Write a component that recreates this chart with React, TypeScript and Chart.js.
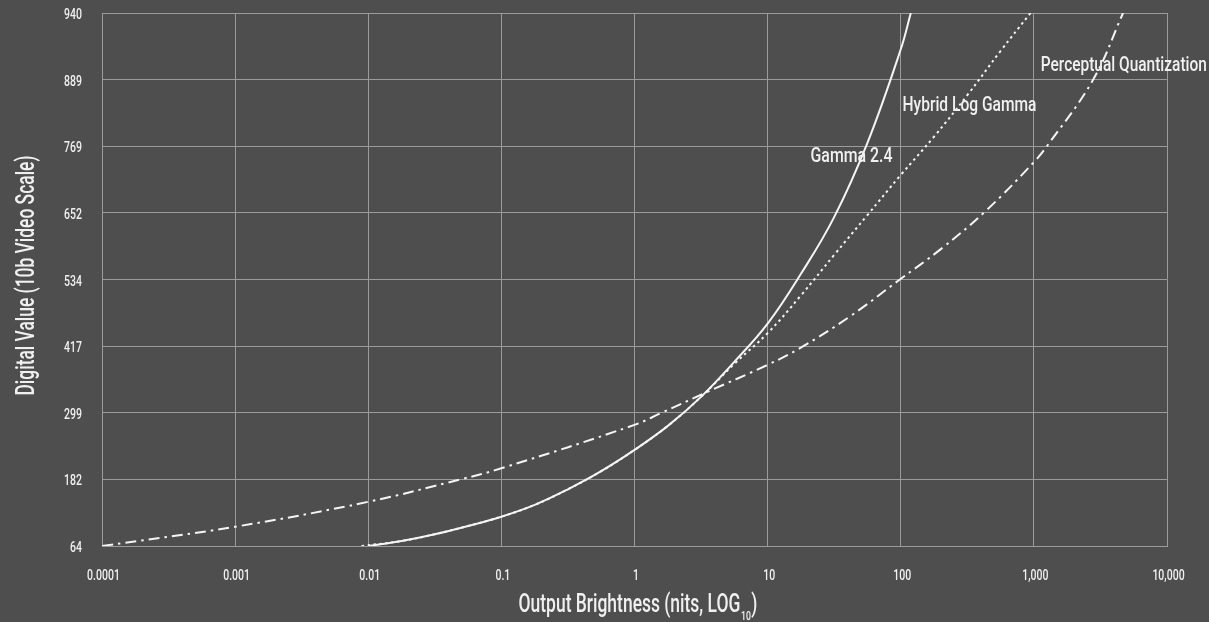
import React, { useEffect, useRef } from 'react';
import { Chart, registerables } from 'chart.js';

Chart.register(...registerables);

// ---- data ----
const xTickValues = [0.0001, 0.001, 0.01, 0.1, 1, 10, 100, 1000, 10000];
const xTickLabels = ['0.0001', '0.001', '0.01', '0.1', '1', '10', '100', '1,000', '10,000'];
const yTickLabels = ['64', '182', '299', '417', '534', '652', '769', '889', '940'];
const yMin = 64;
const yStep = 117.5;

const gammaNits = [0.01, 0.0178, 0.0316, 0.0562, 0.1, 0.178, 0.316, 0.562, 1, 1.78, 3.16, 5.62, 10, 17.8, 31.6, 56.2, 100, 119];
const gammaCode = [64, 72.8, 84.7, 99.3, 115.7, 136.5, 164, 195.9, 233.4, 275.8, 327, 388.8, 456, 544, 644, 775, 940, 1004];

const hlgNits = [0.0089, 0.0178, 0.0316, 0.0562, 0.1, 0.178, 0.316, 0.562, 1, 1.78, 3.16, 5.62, 10, 17.8, 31.6, 56.2, 100, 178, 316, 562, 944];
const hlgCode = [64, 72.8, 84.7, 99.3, 115.7, 136.5, 164, 195.9, 233.4, 275.8, 327, 385.2, 439.4, 506, 577.3, 647.7, 718.3, 786, 859, 937, 1004];

const pqNits = [0.0001, 0.001, 0.01, 0.0503, 0.1, 1, 1.6, 3.47, 10, 17.5, 41.5, 98.4, 201, 440, 1000, 1253, 2788, 4677];
const pqCode = [64, 98, 142, 182, 201, 277.6, 299, 335, 383.5, 413, 468.8, 534, 588, 656, 741, 769, 886.5, 1004];

const seriesNames = ['Gamma 2.4', 'Hybrid Log Gamma', 'Perceptual Quantization'];

// label anchors in data space (nits, code value)
const labelAnchors = [
  { text: 'Gamma 2.4', x: 21, y: 742, width: 82 },
  { text: 'Hybrid Log Gamma', x: 103, y: 830.6, width: 134 },
  { text: 'Perceptual Quantization', x: 1128, y: 901, width: 166 },
];

const BG = '#4e4e4e';
const GRID = '#9b9b9b';
const LINE = '#f5f5f5';
const TEXT = '#f0f0f0';
const FONT = 'Roboto, "Noto Sans", sans-serif';

function pts(xs: number[], ys: number[]) {
  return xs.map((x, i) => ({ x, y: ys[i] }));
}

function drawText(
  ctx: CanvasRenderingContext2D,
  text: string,
  x: number,
  y: number,
  size: number,
  sx: number,
  align: CanvasTextAlign,
  weight = 500
) {
  ctx.save();
  ctx.translate(x, y);
  ctx.scale(sx, 1);
  ctx.font = `${weight} ${size}px ${FONT}`;
  ctx.textAlign = align;
  ctx.textBaseline = 'alphabetic';
  ctx.fillStyle = TEXT;
  ctx.fillText(text, 0, 0);
  ctx.restore();
}

function fitFactor(ctx: CanvasRenderingContext2D, text: string, size: number, width: number, weight = 500) {
  ctx.save();
  ctx.font = `${weight} ${size}px ${FONT}`;
  const w = ctx.measureText(text).width;
  ctx.restore();
  return width / w;
}

const textPlugin = {
  id: 'customTexts',
  afterDraw(chart: any) {
    const ctx: CanvasRenderingContext2D = chart.ctx;
    const xs = chart.scales.x;
    const ys = chart.scales.y;
    const area = chart.chartArea;

    // y tick labels
    yTickLabels.forEach((lab, i) => {
      const py = ys.getPixelForValue(yMin + i * yStep);
      drawText(ctx, lab, area.left - 20, py + 6, 15, 0.7, 'right');
    });
    // x tick labels
    xTickValues.forEach((v, i) => {
      const px = xs.getPixelForValue(v);
      drawText(ctx, xTickLabels[i], px + 1.5, area.bottom + 34, 15, 0.7, 'center');
    });

    // y title (rotated)
    const yTitle = 'Digital Value (10b Video Scale)';
    const yf = fitFactor(ctx, yTitle, 26, 240);
    ctx.save();
    ctx.translate(33.5, (area.top + area.bottom) / 2 - 4);
    ctx.rotate(-Math.PI / 2);
    ctx.scale(yf, 1);
    ctx.font = `500 26px ${FONT}`;
    ctx.textAlign = 'center';
    ctx.textBaseline = 'alphabetic';
    ctx.fillStyle = TEXT;
    ctx.fillText(yTitle, 0, 0);
    ctx.restore();

    // x title with subscript
    const main = 'Output Brightness (nits, LOG';
    const sub = '10';
    const end = ')';
    const xf = fitFactor(ctx, main + end, 26, 228);
    ctx.save();
    ctx.font = `500 26px ${FONT}`;
    const wMain = ctx.measureText(main).width * xf;
    const wEnd = ctx.measureText(end).width * xf;
    ctx.font = `500 13px ${FONT}`;
    const wSub = ctx.measureText(sub).width * xf;
    ctx.restore();
    const total = wMain + wSub + wEnd;
    const cx = (area.left + area.right) / 2 + 3;
    const start = cx - total / 2;
    drawText(ctx, main, start, 612, 26, xf, 'left');
    drawText(ctx, sub, start + wMain + 0.5, 619.5, 13, xf, 'left');
    drawText(ctx, end, start + wMain + wSub + 1, 612, 26, xf, 'left');

    // curve labels
    labelAnchors.forEach((a) => {
      const f = fitFactor(ctx, a.text, 21, a.width);
      drawText(ctx, a.text, xs.getPixelForValue(a.x), ys.getPixelForValue(a.y), 21, f, 'left');
    });
  },
};

export default function App() {
  const ref = useRef<HTMLCanvasElement>(null);

  useEffect(() => {
    const canvas = ref.current!;
    const common = {
      showLine: true,
      borderColor: LINE,
      borderWidth: 2,
      pointRadius: 0,
      tension: 0.4,
    };
    const chart = new Chart(canvas, {
      type: 'scatter',
      data: {
        datasets: [
          { ...common, label: seriesNames[0], data: pts(gammaNits, gammaCode) },
          { ...common, label: seriesNames[1], data: pts(hlgNits, hlgCode), borderDash: [2.5, 3.5] },
          { ...common, label: seriesNames[2], data: pts(pqNits, pqCode), borderDash: [11, 5, 2.5, 5] },
        ],
      } as any,
      options: {
        responsive: false,
        animation: false,
        devicePixelRatio: 1,
        layout: { padding: { top: 13, right: 42, left: 0, bottom: 0 } },
        plugins: {
          legend: { display: false },
          tooltip: { enabled: false },
          title: { display: false },
        },
        scales: {
          x: {
            type: 'logarithmic',
            min: 0.0001,
            max: 10000,
            afterBuildTicks: (scale: any) => {
              scale.ticks = xTickValues.map((v) => ({ value: v }));
            },
            afterFit: (scale: any) => {
              scale.height = 76;
            },
            ticks: { display: false },
            grid: { color: GRID, lineWidth: 1, drawTicks: false },
            border: { color: GRID, width: 1 },
          },
          y: {
            type: 'linear',
            min: yMin,
            max: yMin + yStep * (yTickLabels.length - 1),
            afterBuildTicks: (scale: any) => {
              scale.ticks = yTickLabels.map((_, i) => ({ value: yMin + i * yStep }));
            },
            afterFit: (scale: any) => {
              scale.width = 102;
            },
            ticks: { display: false },
            grid: { color: GRID, lineWidth: 1, drawTicks: false },
            border: { color: GRID, width: 1 },
          },
        },
      } as any,
      plugins: [textPlugin],
    });
    return () => chart.destroy();
  }, []);

  return (
    <div style={{ position: 'fixed', left: 0, top: 0, width: 1209, height: 622, background: BG }}>
      <canvas ref={ref} width={1209} height={622} style={{ display: 'block', width: 1209, height: 622 }} />
    </div>
  );
}
